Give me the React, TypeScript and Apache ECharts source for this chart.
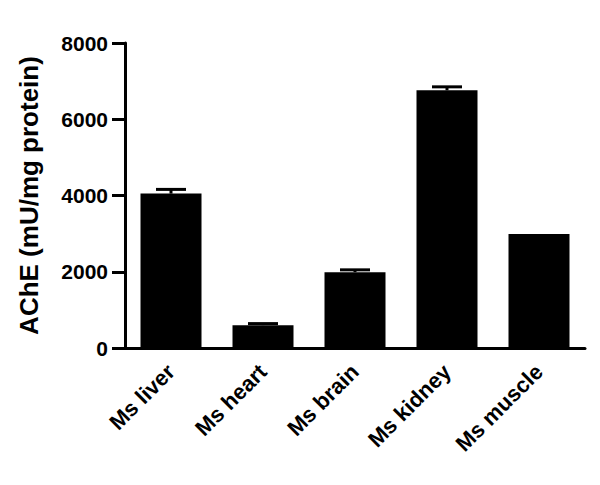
import React, { useEffect, useRef } from "react";
import * as echarts from "echarts";

// tissues on the x axis
const tissues = ["Ms liver", "Ms heart", "Ms brain", "Ms kidney", "Ms muscle"];
// mean AChE activity (mU/mg protein)
const meanActivity = [4050, 600, 1990, 6760, 2990];
// upper error (SD)
const errorActivity = [110, 40, 60, 90, 0];
// y ticks
const yMin = 0;
const yMax = 8000;
const yStep = 2000;

const FONT = "'Liberation Sans', Arial, Helvetica, sans-serif";

const App = () => {
  const chartRef = useRef<HTMLDivElement>(null);

  useEffect(() => {
    if (!chartRef.current) return;
    const chart = echarts.init(chartRef.current, null, { renderer: "svg" });

    const errData = tissues.map((_, i) => [i, meanActivity[i], meanActivity[i] + errorActivity[i]]);

    chart.setOption({
      animation: false,
      backgroundColor: "#ffffff",
      // div sits at the body's 8px margin
      grid: { left: 117, right: 7, top: 35, bottom: 129 },
      xAxis: {
        type: "category",
        data: tissues,
        axisLine: { lineStyle: { color: "#000", width: 3 } },
        axisTick: { alignWithLabel: true, length: 9, lineStyle: { color: "#000", width: 3 } },
        axisLabel: {
          rotate: 45,
          margin: 20,
          color: "#000",
          fontFamily: FONT,
          fontWeight: "bold",
          fontSize: 22,
        },
      },
      yAxis: {
        type: "value",
        min: yMin,
        max: yMax,
        interval: yStep,
        name: "AChE (mU/mg protein)",
        nameLocation: "middle",
        nameGap: 83,
        nameTextStyle: { color: "#000", fontFamily: FONT, fontWeight: "bold", fontSize: 26 },
        splitLine: { show: false },
        axisLine: { show: true, lineStyle: { color: "#000", width: 3 } },
        axisTick: { show: true, length: 13, lineStyle: { color: "#000", width: 3 } },
        axisLabel: {
          margin: 17,
          color: "#000",
          fontFamily: FONT,
          fontWeight: "bold",
          fontSize: 21,
          formatter: (v: number) => String(v),
        },
      },
      series: [
        {
          type: "bar",
          data: meanActivity,
          barWidth: 61,
          itemStyle: { color: "#000" },
        },
        {
          type: "custom",
          data: errData,
          z: 3,
          renderItem: (params: any, api: any) => {
            const i = api.value(0);
            const lo = api.coord([i, api.value(1)]);
            const hi = api.coord([i, api.value(2)]);
            if (api.value(2) <= api.value(1)) return { type: "group", children: [] };
            const half = 15;
            const style = { stroke: "#000", lineWidth: 3 };
            return {
              type: "group",
              children: [
                { type: "line", shape: { x1: lo[0], y1: lo[1], x2: hi[0], y2: hi[1] }, style },
                { type: "line", shape: { x1: hi[0] - half, y1: hi[1], x2: hi[0] + half, y2: hi[1] }, style },
              ],
            };
          },
        },
      ],
    });

    return () => chart.dispose();
  }, []);

  return <div ref={chartRef} style={{ width: 584, height: 469 }} />;
};

export default App;
